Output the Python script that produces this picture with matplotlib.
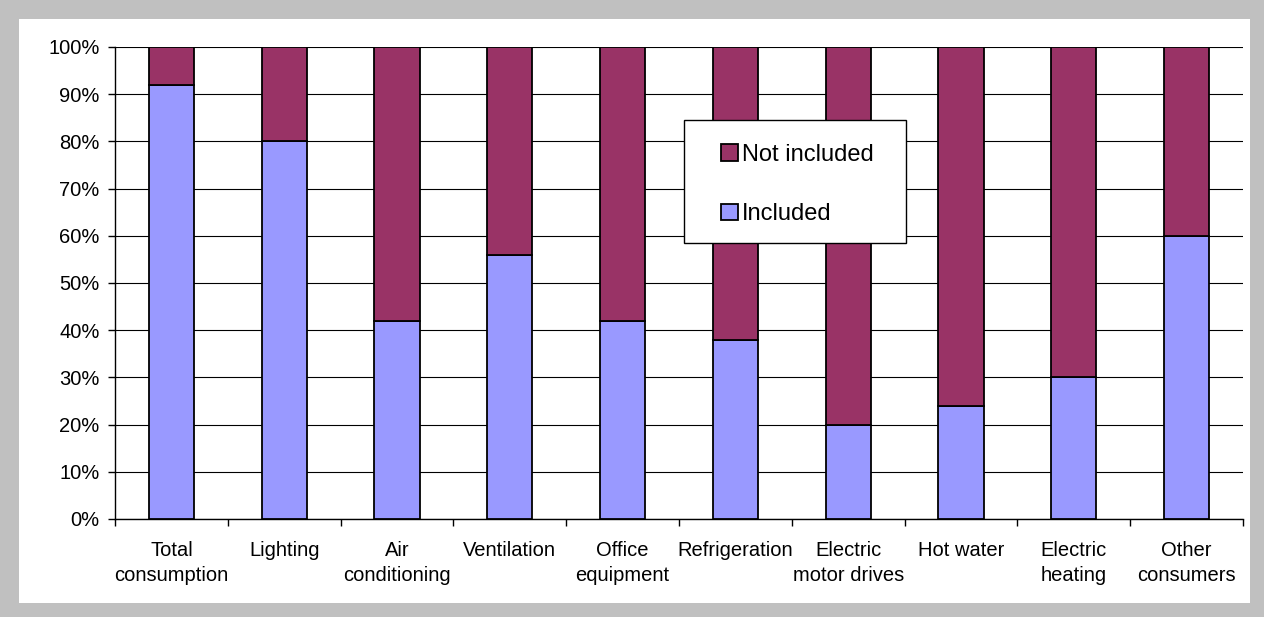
import matplotlib
matplotlib.use("Agg")
import matplotlib.pyplot as plt
from matplotlib.patches import Rectangle
from matplotlib.ticker import FixedLocator, PercentFormatter
import numpy as np

categories = ["Total\nconsumption", "Lighting", "Air\nconditioning", "Ventilation",
              "Office\nequipment", "Refrigeration", "Electric\nmotor drives",
              "Hot water", "Electric\nheating", "Other\nconsumers"]
included = [92, 80, 42, 56, 42, 38, 20, 24, 30, 60]
not_included = [100 - v for v in included]

W, H = 1264, 617
plt.rcParams["font.family"] = ["Liberation Sans", "DejaVu Sans"]

fig = plt.figure(figsize=(W / 100, H / 100), dpi=100)
fig.patch.set_facecolor("#C0C0C0")
fig.patches.append(Rectangle((19 / W, 1 - 603 / H), (1250 - 19) / W, (603 - 19) / H,
                             transform=fig.transFigure, facecolor="white",
                             edgecolor="none", zorder=-10))

ax = fig.add_axes([115 / W, 1 - 519 / H, (1243 - 115) / W, (519 - 47) / H])
ax.set_facecolor("none")

x = np.arange(len(categories))
bar_w = 0.4
b1 = ax.bar(x, included, width=bar_w, color="#9999FF", edgecolor="black",
            linewidth=1.3, zorder=3, label="Included")
b2 = ax.bar(x, not_included, width=bar_w, bottom=included, color="#993366",
            edgecolor="black", linewidth=1.3, zorder=3, label="Not included")

ax.set_xlim(-0.5, len(categories) - 0.5)
ax.set_ylim(0, 100)
ax.set_yticks(np.arange(0, 101, 10))
ax.yaxis.set_major_formatter(PercentFormatter(decimals=0))
ax.grid(axis="y", color="black", linewidth=0.8, zorder=1)

# category boundaries carry the tick marks, labels sit at the centres
ax.xaxis.set_major_locator(FixedLocator(np.arange(-0.5, len(categories), 1.0)))
ax.xaxis.set_minor_locator(FixedLocator(x))
ax.set_xticklabels([""] * (len(categories) + 1))
ax.set_xticklabels(categories, minor=True, linespacing=1.38)
ax.tick_params(axis="x", which="major", direction="out", length=5, width=1, color="black")
ax.tick_params(axis="x", which="minor", length=0, pad=16, labelsize=14.5)
ax.tick_params(axis="y", direction="out", length=5, width=1, labelsize=14.5, pad=6)

for s in ("top", "right"):
    ax.spines[s].set_visible(False)
for s in ("left", "bottom"):
    ax.spines[s].set_color("black")
    ax.spines[s].set_linewidth(1)

# legend box drawn separately so its padding can be wider than tall
legend_box = Rectangle((684 / W, 1 - 243 / H), (906 - 684) / W, (243 - 120) / H,
                       transform=fig.transFigure, facecolor="white",
                       edgecolor="black", linewidth=1, zorder=4, clip_on=False)
ax.add_patch(legend_box)
leg = ax.legend([b2, b1], ["Not included", "Included"],
                loc="center left", bbox_to_anchor=(721 / W, 1 - 184.5 / H),
                bbox_transform=fig.transFigure, fontsize=17, frameon=False,
                handlelength=0.7, handleheight=0.7, handletextpad=0.2,
                labelspacing=1.6, borderpad=0, borderaxespad=0)
leg.set_zorder(5)

fig.savefig("out.png", dpi=100, facecolor=fig.get_facecolor())
